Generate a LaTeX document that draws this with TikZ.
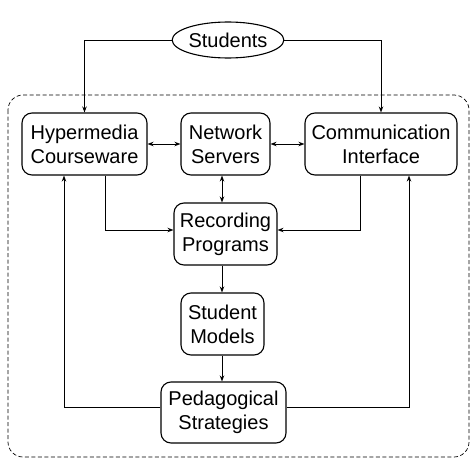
\documentclass[tikz,border=0pt]{standalone}
\usepackage{fontspec}
\setmainfont{Liberation Sans}
\usetikzlibrary{shapes.geometric,arrows.meta}
\begin{document}
\begin{tikzpicture}[x=1pt,y=-1pt,
  box/.style={draw,line width=1.1pt,rounded corners=10pt,align=center,inner sep=0pt,
    font=\fontsize{20}{24}\selectfont},
  conn/.style={line width=0.9pt},
  arr/.style={conn,-{Stealth[length=6pt,width=4.5pt]}},
  darr/.style={conn,{Stealth[length=6pt,width=4.5pt]}-{Stealth[length=6pt,width=4.5pt]}}]
\useasboundingbox (0,0) rectangle (471,463);
\draw[dashed,line width=0.7pt,dash pattern=on 4pt off 2.5pt,rounded corners=15pt] (8,95) rectangle (469,457);
\node[box,ellipse,minimum width=110pt,minimum height=36pt] (stu) at (228,40) {Students};
\node[box,minimum width=125pt,minimum height=62pt] (hyp) at (84.5,144) {Hypermedia\\Courseware};
\node[box,minimum width=89pt,minimum height=62pt] (net) at (225.5,144) {Network\\Servers};
\node[box,minimum width=152pt,minimum height=62pt] (com) at (381,144) {Communication\\Interface};
\node[box,minimum width=103pt,minimum height=62pt] (rec) at (225.5,234) {Recording\\Programs};
\node[box,minimum width=83pt,minimum height=62pt] (sm) at (222.5,324) {Student\\Models};
\node[box,minimum width=125pt,minimum height=61pt] (ped) at (223.5,412.5) {Pedagogical\\Strategies};
\coordinate (vx) at (222,0);
\coordinate (hr) at (105,230);
\coordinate (cr) at (360,230);
\coordinate (ph) at (64,407);
\coordinate (pc) at (409,407);
\draw[arr] (stu.west) -| (hyp.north);
\draw[arr] (stu.east) -| (com.north);
\draw[darr] (hyp.east) -- (net.west);
\draw[darr] (net.east) -- (com.west);
\draw[darr] (net.south -| vx) -- (rec.north -| vx);
\draw[arr] (hyp.south -| hr) |- (rec.west |- hr);
\draw[arr] (com.south -| cr) |- (rec.east |- cr);
\draw[arr] (rec.south -| vx) -- (sm.north -| vx);
\draw[arr] (sm.south -| vx) -- (ped.north -| vx);
\draw[arr] (ped.west |- ph) -| (hyp.south -| ph);
\draw[arr] (ped.east |- pc) -| (com.south -| pc);
\end{tikzpicture}
\end{document}
